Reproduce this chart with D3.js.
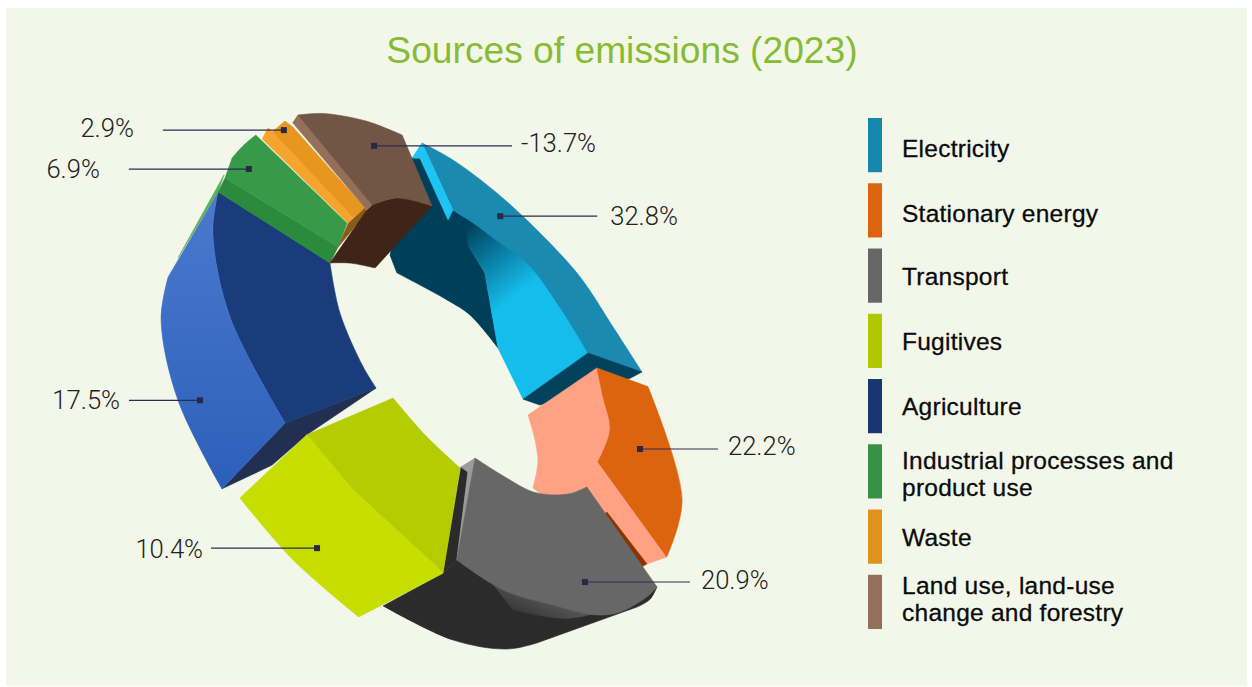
<!DOCTYPE html>
<html>
<head>
<meta charset="utf-8">
<style>
  html, body { margin: 0; padding: 0; background: #fff; }
  svg { display: block; }
  .title { font-family: "Liberation Sans", sans-serif; font-size: 37.2px; fill: #86bc33; }
  .share { font-family: "Roboto", "Liberation Sans", sans-serif; font-weight: 300; font-size: 25.6px; fill: #222; }
  .key { font-family: "Liberation Sans", sans-serif; font-size: 24.5px; letter-spacing: .25px; fill: #0b0b0b; stroke: #0b0b0b; stroke-width: .3px; }
</style>
</head>
<body>
<svg id="chart" width="1252" height="687"></svg>
<script src="https://cdn.jsdelivr.net/npm/d3@7"></script>
<script>
// Emission shares by sector, 2023 (percent)
const categories = ["Electricity", "Stationary energy", "Transport", "Fugitives", "Agriculture",
  "Industrial processes and product use", "Waste", "Land use, land-use change and forestry"];
const shares = [32.8, 22.2, 20.9, 10.4, 17.5, 6.9, 2.9, -13.7];
const keyColours = ["#1489ad", "#dc640f", "#666666", "#b1c800", "#173672", "#379146", "#e1921c", "#94705c"];
const keyLines = [["Electricity"], ["Stationary energy"], ["Transport"], ["Fugitives"], ["Agriculture"],
  ["Industrial processes and", "product use"], ["Waste"], ["Land use, land-use", "change and forestry"]];

const svg = d3.select("#chart");

// Slices take their sweep from the size of each share, whichever its sign
const pie = d3.pie().sort(null).value(d => Math.abs(d)).startAngle(0).endAngle(2 * Math.PI);
const arcs = pie(shares);

// Foreshortening of the tilted ring: sweep around the pie -> bearing on the ring plane (degrees)
const sweepKnots = [0, ...arcs.map(a => a.endAngle)];
const bearing = d3.scaleLinear().domain(sweepKnots).range([122, 54, 8, -44, -98, -175, -197, -206, -238]);

// Ring plane: long axis runs down to the right, short axis up to the right
const ring = { x: 415, y: 368, ax: 212, ay: 212, bx: 141, by: -141 };
function ringPoint(arc, t, rho) {
  const from = bearing(arc.startAngle), to = bearing(arc.endAngle);
  const a = (from + (to - from) * t) * Math.PI / 180;
  return [ring.x + rho * (ring.ax * Math.cos(a) + ring.bx * Math.sin(a)),
          ring.y + rho * (ring.ay * Math.cos(a) + ring.by * Math.sin(a))];
}

// Faces of each block as [fraction along the slice, radial position, curved-edge flag]
const faces = [
  // Electricity
  [
    { fill: "#003f5a", pts: [[-.035,.889],[-.006,.902],[.144,.75],[.312,.758],[.253,.645],[.385,.588],[.797,.394,1],[.481,.383,1],[.272,.365,1],[-.182,.382],[-.209,.45]] },
    { fill: "url(#elecGlow)", pts: [[.19,.79],[.49,.8,1],[.694,.786,1],[.9,.79],[.9,.764],[1.21,.427],[.797,.394],[.385,.588],[.253,.645]] },
    { fill: "#1a8ab0", pts: [[0,.97,1],[.107,.96,1],[.272,.937,1],[.449,.922,1],[.631,.925,1],[.818,.925,1],[.979,.96],[.9,.764,1],[.694,.756,1],[.49,.77,1],[.365,.751,1],[.237,.749,1],[.144,.75]] },
    { fill: "#1ec4f3", pts: [[0,.97],[-.035,.889],[-.006,.902],[.134,.697],[.144,.75]] },
    { fill: "#02425c", pts: [[.9,.764],[.979,.96],[1.003,.90],[1.218,.493],[1.21,.427]] }
  ],
  // Stationary energy
  [
    { fill: "#ffa183", pts: [[-.052,.775],[.483,.444,1],[.726,.484,1],[.937,.523,1],[1.189,.561],[1.1,.8],[1.017,1.017],[.911,1.063],[.35,.9]] },
    { fill: "#8a3200", pts: [[.911,.81],[1.017,1.017],[1.09,1.0],[1.09,.8]] },
    { fill: "#dc640f", pts: [[-.052,.775],[.043,.964,1],[.587,1.056,1],[.911,1.063],[.613,.725,1],[.35,.768,1],[.135,.762,1],[-.052,.775]] }
  ],
  // Transport
  [
    { fill: "#2b2b2b", pts: [[1.367,1.073,1],[1.088,1.106,1],[.871,1.106,1],[.733,1.082],[.215,1.089,1],[.142,1.1,1],[.071,1.09],[1,.767],[1.092,.835]] },
    { fill: "#2b2b2b", pts: [[.708,.39],[1.092,.835],[1,.767],[.656,.412]] },
    { fill: "#9b9b9b", pts: [[.475,.37],[.708,.39],[.656,.412],[1,.767],[.946,.753],[.606,.419]] },
    { fill: "url(#underGrey)", pts: [[.83,.85],[.571,.93],[.4,1.02],[.4,1.03,1],[.55,1.01,1],[.78,.95]] },
    { fill: "#676767", pts: [[.475,.37,1],[.321,.467,1],[.194,.571,1],[.062,.636,1],[-.037,.677,1],[-.14,.711],[.071,1.09,1],[.142,1.087,1],[.296,1.068,1],[.4,1.038,1],[.571,.951,1],[.788,.872,1],[1,.767]] }
  ],
  // Fugitives
  [
    { fill: "#b4cc00", pts: [[.741,.185,1],[.074,.272,1],[-.265,.394],[.089,.835],[.137,.804],[.624,.667],[1.017,.628]] },
    { fill: "#c6de00", pts: [[1.017,.628],[.956,1.087,1],[.696,1.125,1],[.43,1.174],[.089,.835],[.137,.804],[.624,.667]] }
  ],
  // Agriculture
  [
    { fill: "#222f50", pts: [[.009,1.126],[.092,.679],[.052,.214],[.012,.628],[-.01,.858]] },
    { fill: "#1b3c7a", pts: [[1.003,.883],[1.182,.454,1],[.896,.315,1],[.348,.219,1],[.052,.214],[.092,.679,1],[.539,.732,1],[.848,.83,1],[1.003,.883]] },
    { fill: "url(#agriLight)", pts: [[.009,1.126,1],[.245,1.07,1],[.471,1.02,1],[.613,.97],[1.003,.883,1],[.848,.83,1],[.539,.732,1],[.092,.679]] }
  ],
  // Industrial processes and product use
  [
    { fill: "#5cb05c", pts: [[-1.08,.934],[.25,.906],[.009,.883]] },
    { fill: "#2c8a3c", pts: [[.009,.883],[.227,.896],[1.068,.492],[.636,.454]] },
    { fill: "#379a48", pts: [[.945,.961,1],[.5,.932],[.227,.896],[1.068,.492],[1.523,.571]] }
  ],
  // Waste
  [
    { fill: "#e8971e", pts: [[.889,.981],[1.022,.955],[2.356,.63],[1.667,.589],[.367,.953]] },
    { fill: "#f7a42e", pts: [[.367,.953],[.322,.971],[-.033,.94],[1.333,.57],[1.667,.589]] },
    { fill: "#8a5a1a", pts: [[.167,.492],[2.389,.615],[2.356,.63],[1.333,.57]] }
  ],
  // Land use, land-use change and forestry
  [
    { fill: "#3f2518", pts: [[.397,.623],[-.531,.454,1],[-.203,.425,1],[.213,.393],[1.116,.721,1],[.769,.698,1],[.475,.646]] },
    { fill: "#94705c", pts: [[.022,.97],[.091,.997],[.475,.646],[.397,.623]] },
    { fill: "#725645", pts: [[.091,.997,1],[.288,1.0,1],[.6,.99,1],[.856,.972],[1.116,.721,1],[.769,.698,1],[.475,.646]] }
  ]
];

// Blocks nearer the viewer are painted later
const paintOrder = [0, 1, 2, 4, 3, 5, 6, 7];

// Where each leader starts on its block, and how it runs to its figure
const leaders = [
  { t: .315, rho: .855, run: 97, gap: 13, lift: 0 },
  { t: .407, rho: .884, run: 78, gap: 10, lift: -3 },
  { t: .342, rho: .919, run: 105, gap: 11, lift: -2 },
  { t: .646, rho: 1.005, run: -106, gap: 8, lift: 1 },
  { t: .236, rho: .977, run: -71, gap: 9, lift: 0 },
  { t: .577, rho: .869, run: -120, gap: 29, lift: 0 },
  { t: .722, rho: .949, run: -121, gap: 29, lift: -2 },
  { t: .625, rho: .893, run: 138, gap: 9, lift: -2 }
];

// Baseline nudge for each legend entry
const keyNudge = [12, 12, 9, 9, 9, 11, 9, 6];

// Panel and heading
svg.append("rect").attr("x", 6).attr("y", 8).attr("width", 1241).attr("height", 678).attr("fill", "#f3f7ea");
svg.append("text").attr("class", "title").attr("x", 622).attr("y", 63).attr("text-anchor", "middle")
  .text("Sources of emissions (2023)");

// Shading on the lit and shaded faces
const defs = svg.append("defs");
const ramp = (id, x1, y1, x2, y2, a, b) => {
  const g = defs.append("linearGradient").attr("id", id).attr("gradientUnits", "userSpaceOnUse")
    .attr("x1", x1).attr("y1", y1).attr("x2", x2).attr("y2", y2);
  g.append("stop").attr("offset", 0).attr("stop-color", a);
  g.append("stop").attr("offset", 1).attr("stop-color", b);
};
ramp("elecGlow", 462, 228, 515, 296, "#003f5a", "#14bdec");
ramp("agriLight", 0, 200, 0, 490, "#4a78cf", "#2c60b8");
ramp("underGrey", 552, 592, 535, 632, "#5e5e5e", "#2b2b2b");

// Trace one face: straight between plain corners, smooth along flagged runs
const smooth = d3.line().curve(d3.curveCatmullRom);
function facePath(arc, pts) {
  const n = pts.length;
  const at = p => ringPoint(arc, p[0], p[1]);
  let d = "", i = 0;
  while (i < n) {
    if (pts[i][2]) {
      let j = i;
      const run = [pts[i]];
      while (pts[j % n][2] && j < i + n) { j++; run.push(pts[j % n]); }
      if (run.length === 2) {
        const [p, q] = run;
        run.splice(1, 0, [(p[0] + q[0]) / 2, (p[1] + q[1]) / 2]);
      }
      const seg = smooth(run.map(at));
      d += d ? seg.replace(/^M/, "L") : seg;
      i = j;
    } else {
      const [x, y] = at(pts[i]);
      d += (d ? "L" : "M") + x + "," + y;
      i++;
    }
  }
  return d + "Z";
}

const blocks = svg.append("g").selectAll("g").data(paintOrder).join("g");
blocks.selectAll("path").data(i => faces[i].map(f => ({ ...f, arc: arcs[i] }))).join("path")
  .attr("d", d => facePath(d.arc, d.pts))
  .attr("fill", d => d.fill)
  .attr("stroke", d => d.fill)
  .attr("stroke-width", .6)
  .attr("stroke-linejoin", "round");

// Leaders and percentage figures
const fmt = d => d3.format(".1f")(d).replace("\u2212", "-") + "%";
svg.append("g").selectAll("g").data(shares).join("g").each(function (v, i) {
  const l = leaders[i];
  const [x, y] = ringPoint(arcs[i], l.t, l.rho);
  const g = d3.select(this);
  g.append("line").attr("x1", x).attr("y1", y).attr("x2", x + l.run).attr("y2", y)
    .attr("stroke", "#2e2a52").attr("stroke-width", 1.2);
  g.append("rect").attr("x", x - 3).attr("y", y - 3).attr("width", 6).attr("height", 6).attr("fill", "#2a2748");
  const dir = l.run > 0 ? 1 : -1;
  g.append("text").attr("class", "share")
    .attr("x", x + l.run + dir * l.gap).attr("y", y + l.lift + 8.5)
    .attr("text-anchor", dir > 0 ? "start" : "end")
    .text(fmt(v));
});

// Legend
const keyY = d3.scaleBand().domain(categories).range([118, 629]).paddingInner(11 / 65);
const key = svg.append("g").selectAll("g").data(categories).join("g");
key.append("rect").attr("x", 868).attr("width", 14)
  .attr("y", d => keyY(d)).attr("height", keyY.bandwidth())
  .attr("fill", (d, i) => keyColours[i]);
key.each(function (d, i) {
  const lines = keyLines[i];
  const mid = keyY(d) + keyY.bandwidth() / 2;
  d3.select(this).selectAll("text").data(lines).join("text").attr("class", "key")
    .attr("x", 902)
    .attr("y", (s, j) => mid + keyNudge[i] + (j - (lines.length - 1) / 2) * 27)
    .text(s => s);
});
</script>
</body>
</html>
